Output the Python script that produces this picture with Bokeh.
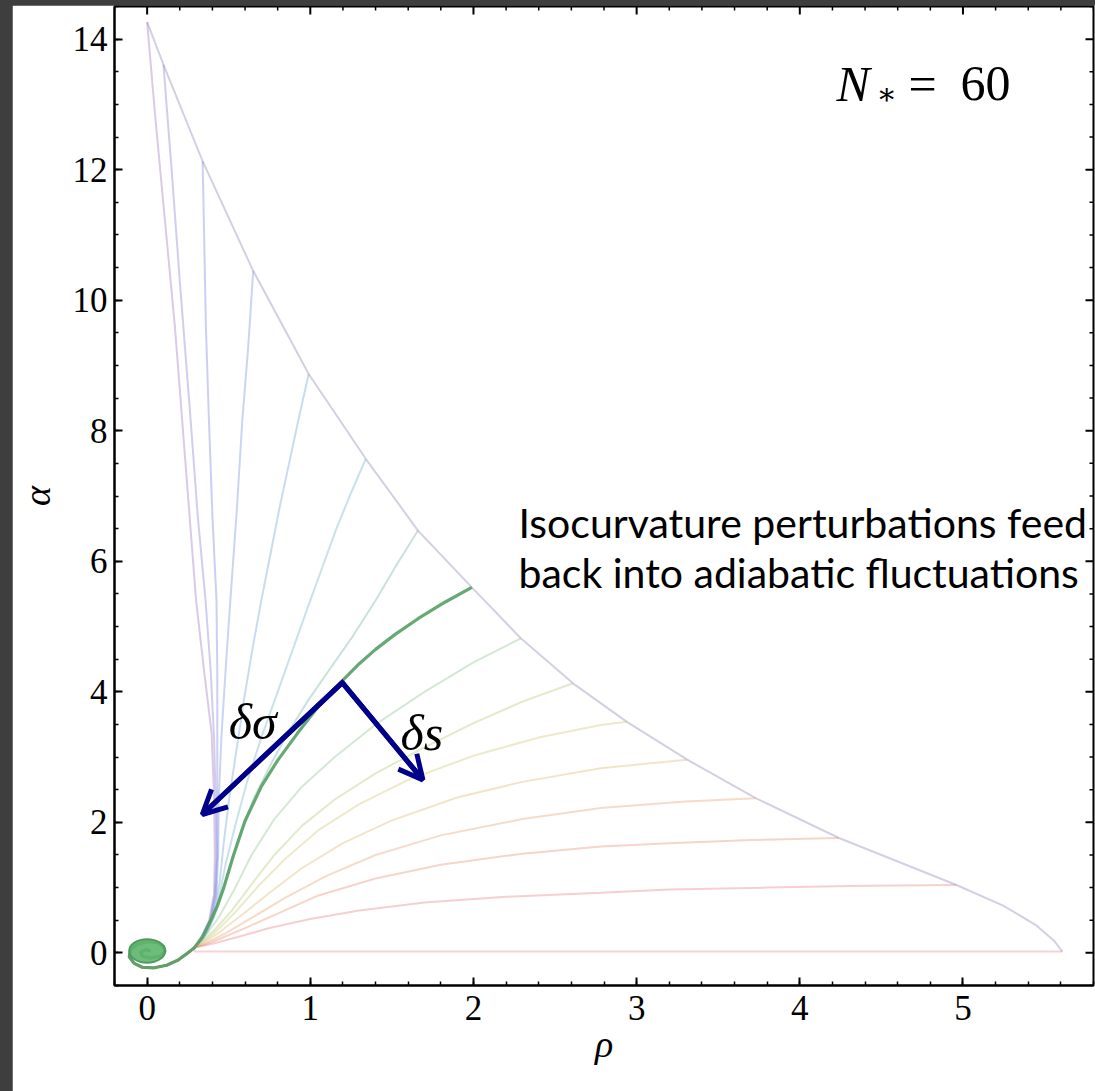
import math
from bokeh.plotting import figure
from bokeh.models import (Label, Arrow, OpenHead, SingleIntervalTicker, Range1d)
from bokeh.layouts import column
from bokeh.embed import file_html
from bokeh.resources import INLINE

# ---------------- data ----------------
rho_ticks = [0, 1, 2, 3, 4, 5]
alpha_ticks = [0, 2, 4, 6, 8, 10, 12, 14]
rho_limits = (-0.2, 5.8)
alpha_limits = (-0.5, 14.5)

# N_* = 60 boundary (end points of the trajectories)
envelope = [(0.00, 14.26), (0.10, 13.61), (0.34, 12.13), (0.65, 10.45), (0.99, 8.87),
            (1.34, 7.57), (1.66, 6.47), (1.99, 5.60), (2.29, 4.82), (2.61, 4.13),
            (2.94, 3.54), (3.31, 2.96), (3.73, 2.37), (4.24, 1.76), (4.60, 1.40),
            (4.96, 1.04), (5.25, 0.72), (5.45, 0.42), (5.56, 0.18), (5.61, 0.02)]

# common spiral into the minimum
tail = [(0.29, 0.08), (0.25, 0.00), (0.19, -0.11), (0.12, -0.19), (0.04, -0.23),
        (-0.03, -0.22), (-0.08, -0.16), (-0.11, -0.06), (-0.10, 0.05), (-0.06, 0.13),
        (0.00, 0.17), (0.06, 0.16), (0.10, 0.10), (0.11, 0.02), (0.08, -0.05),
        (0.02, -0.08), (-0.03, -0.05), (-0.04, 0.01), (-0.01, 0.05), (0.02, 0.03)]

traj_00 = [(0.00, 14.26), (0.05, 12.80), (0.11, 11.20), (0.17, 9.60), (0.215, 8.15), (0.26, 6.70),
           (0.30, 5.40), (0.35, 4.30), (0.395, 3.37), (0.41, 2.40), (0.415, 1.50), (0.41, 0.90),
           (0.38, 0.50), (0.33, 0.22), (0.29, 0.08)]
traj_01 = [(0.10, 13.61), (0.15, 12.00), (0.20, 10.30), (0.267, 8.15), (0.31, 6.70), (0.358, 5.40),
           (0.39, 4.30), (0.41, 3.30), (0.42, 2.40), (0.425, 1.50), (0.415, 0.90), (0.385, 0.50),
           (0.335, 0.22), (0.29, 0.08)]
traj_02 = [(0.34, 12.13), (0.35, 10.90), (0.36, 9.60), (0.379, 8.15), (0.40, 6.70), (0.425, 5.40),
           (0.43, 4.30), (0.43, 3.30), (0.43, 2.40), (0.43, 1.50), (0.42, 0.90), (0.39, 0.50),
           (0.34, 0.22), (0.29, 0.08)]
traj_03 = [(0.65, 10.45), (0.62, 9.30), (0.583, 8.15), (0.55, 6.80), (0.51, 5.40), (0.48, 4.30),
           (0.455, 3.30), (0.44, 2.40), (0.435, 1.50), (0.425, 0.90), (0.395, 0.50), (0.345, 0.22),
           (0.29, 0.08)]
traj_04 = [(0.99, 8.87), (0.93, 8.20), (0.87, 7.50), (0.81, 6.80), (0.755, 6.10), (0.70, 5.40),
           (0.645, 4.65), (0.595, 3.90), (0.55, 3.15), (0.505, 2.40), (0.47, 1.70), (0.445, 1.10),
           (0.42, 0.70), (0.38, 0.42), (0.33, 0.20), (0.29, 0.08)]
traj_05 = [(1.34, 7.57), (1.25, 7.05), (1.16, 6.50), (1.08, 5.95), (1.00, 5.40), (0.90, 4.70),
           (0.80, 4.00), (0.70, 3.30), (0.61, 2.60), (0.54, 1.95), (0.48, 1.35), (0.445, 0.90),
           (0.41, 0.55), (0.35, 0.25), (0.29, 0.08)]
traj_06 = [(1.66, 6.47), (1.53, 5.95), (1.40, 5.40), (1.26, 4.85), (1.12, 4.35), (0.99, 3.88),
           (0.87, 3.40), (0.76, 2.90), (0.66, 2.40), (0.58, 1.90), (0.515, 1.40), (0.465, 0.98),
           (0.425, 0.65), (0.37, 0.32), (0.29, 0.08)]
traj_07 = [(1.99, 5.60), (1.83, 5.38), (1.66, 5.12), (1.52, 4.88), (1.40, 4.65), (1.30, 4.43),
           (1.20, 4.18), (1.05, 3.78), (0.92, 3.36), (0.80, 2.95), (0.70, 2.55), (0.60, 2.02),
           (0.53, 1.50), (0.47, 1.00), (0.43, 0.72), (0.39, 0.50), (0.34, 0.25), (0.29, 0.08)]
traj_08 = [(2.29, 4.82), (2.00, 4.45), (1.70, 4.00), (1.40, 3.50), (1.15, 3.00), (0.95, 2.55),
           (0.78, 2.05), (0.64, 1.50), (0.53, 0.95), (0.44, 0.55), (0.36, 0.27), (0.29, 0.08)]
traj_09 = [(2.61, 4.13), (2.30, 3.85), (2.00, 3.52), (1.70, 3.15), (1.40, 2.75), (1.15, 2.35),
           (0.95, 1.95), (0.78, 1.50), (0.64, 1.05), (0.52, 0.65), (0.42, 0.37), (0.34, 0.18),
           (0.29, 0.08)]
traj_10 = [(2.94, 3.54), (2.78, 3.49), (2.40, 3.30), (2.00, 3.02), (1.60, 2.65), (1.30, 2.28),
           (1.05, 1.88), (0.85, 1.45), (0.68, 1.02), (0.55, 0.65), (0.44, 0.37), (0.35, 0.18),
           (0.29, 0.08)]
traj_11 = [(3.31, 2.96), (2.78, 2.83), (2.30, 2.62), (1.90, 2.38), (1.50, 2.03), (1.20, 1.68),
           (0.95, 1.30), (0.75, 0.92), (0.58, 0.58), (0.45, 0.33), (0.35, 0.16), (0.29, 0.08)]
traj_12 = [(3.73, 2.37), (3.30, 2.32), (2.78, 2.22), (2.30, 2.05), (1.80, 1.80), (1.40, 1.50),
           (1.10, 1.18), (0.85, 0.85), (0.65, 0.55), (0.48, 0.30), (0.36, 0.15), (0.29, 0.08)]
traj_13 = [(4.24, 1.76), (3.70, 1.73), (3.20, 1.68), (2.78, 1.63), (2.30, 1.52), (1.80, 1.35),
           (1.40, 1.14), (1.05, 0.88), (0.80, 0.60), (0.60, 0.38), (0.45, 0.22), (0.35, 0.12),
           (0.29, 0.08)]
traj_14 = [(4.96, 1.04), (4.40, 1.03), (3.80, 1.00), (3.20, 0.97), (2.78, 0.92), (2.20, 0.86),
           (1.70, 0.77), (1.30, 0.65), (1.00, 0.52), (0.75, 0.38), (0.55, 0.24), (0.40, 0.14),
           (0.29, 0.08)]
traj_15 = [(5.61, 0.02), (5.00, 0.02), (4.00, 0.02), (3.00, 0.02), (2.00, 0.02), (1.00, 0.02),
           (0.50, 0.02), (0.29, 0.02)]

trajectories = [traj_00, traj_01, traj_02, traj_03, traj_04, traj_05, traj_06, traj_07,
                traj_08, traj_09, traj_10, traj_11, traj_12, traj_13, traj_14, traj_15]
highlight = 7

blob_rho, blob_alpha, blob_w, blob_h = [0.0], [0.03], [0.22], [0.36]

arrow_vertex = (1.196, 4.14)
arrow_dsigma_tip = (0.338, 2.12)
arrow_ds_tip = (1.69, 2.65)

label_dsigma_pos = (0.50, 3.54)
label_ds_pos = (1.553, 3.37)
label_N_pos = (4.225, 13.32)
note_pos = (2.276, 6.60)
note_pos2 = (2.276, 5.83)

# ---------------- styles ----------------
traj_colors = ["#a070c0", "#8c7cd0", "#7a80e0", "#7090e0", "#70a0d8", "#70b0c8", "#70b0a8",
               "#55a065", "#90c090", "#b0c870", "#d0c870", "#e0b870", "#e8a070", "#e89070",
               "#e88080", "#e88890"]
NAVY = "#00008b"
SERIF = "'Liberation Serif', 'Times New Roman', serif"

p = figure(width=1083, height=1086, x_range=Range1d(*rho_limits), y_range=Range1d(*alpha_limits),
           output_backend="svg", toolbar_location=None,
           min_border_left=102, min_border_right=2, min_border_top=1, min_border_bottom=106,
           background_fill_color="white", border_fill_color="white")
p.margin = (5, 0, 0, 12)
p.grid.visible = False
p.outline_line_color = "black"
p.outline_line_width = 2

p.xaxis[0].ticker = SingleIntervalTicker(interval=1, num_minor_ticks=5)
p.yaxis[0].ticker = SingleIntervalTicker(interval=2, num_minor_ticks=4)
p.xaxis[0].axis_label = "ρ"
p.yaxis[0].axis_label = "α"

for ax in (p.xaxis[0], p.yaxis[0]):
    ax.axis_line_color = "black"
    ax.axis_line_width = 2
    ax.major_tick_in = 8
    ax.major_tick_out = 0
    ax.minor_tick_in = 4
    ax.minor_tick_out = 0
    ax.major_tick_line_width = 2
    ax.minor_tick_line_width = 1.5
    ax.major_tick_line_color = "black"
    ax.minor_tick_line_color = "black"
    ax.major_label_text_font = SERIF
    ax.major_label_text_font_size = "35px"
    ax.major_label_text_color = "black"
    ax.axis_label_text_font = SERIF
    ax.axis_label_text_font_style = "italic"
    ax.axis_label_text_font_size = "38px"
    ax.axis_label_text_color = "black"
p.xaxis[0].major_label_standoff = 10
p.xaxis[0].axis_label_standoff = 0
p.yaxis[0].major_label_standoff = 7
p.yaxis[0].axis_label_standoff = 12

# mirror ticks on the top and right edges of the frame
rho_minor = [round(rho_limits[0] + 0.2 * k, 2) for k in range(31)]
rho_minor = [v for v in rho_minor if abs(v - round(v)) > 1e-6]
alpha_minor = [alpha_limits[0] + 0.5 * k for k in range(31)]
alpha_minor = [v for v in alpha_minor if abs(v / 2 - round(v / 2)) > 1e-6]
p.ray(x=rho_ticks, y=[alpha_limits[1]] * len(rho_ticks), length=8, length_units="screen",
      angle=-math.pi / 2, line_color="black", line_width=2)
p.ray(x=rho_minor, y=[alpha_limits[1]] * len(rho_minor), length=4, length_units="screen",
      angle=-math.pi / 2, line_color="black", line_width=1.5)
p.ray(x=[rho_limits[1]] * len(alpha_ticks), y=alpha_ticks, length=8, length_units="screen",
      angle=math.pi, line_color="black", line_width=2)
p.ray(x=[rho_limits[1]] * len(alpha_minor), y=alpha_minor, length=4, length_units="screen",
      angle=math.pi, line_color="black", line_width=1.5)

# envelope
p.line([q[0] for q in envelope], [q[1] for q in envelope], line_color="#d2d0e2", line_width=2)

# faint trajectories
for i, tr in enumerate(trajectories):
    if i == highlight:
        continue
    pts = tr + tail
    p.line([q[0] for q in pts], [q[1] for q in pts], line_color=traj_colors[i],
           line_width=2, line_alpha=0.38)

# highlighted trajectory
pts = trajectories[highlight] + tail
p.line([q[0] for q in pts], [q[1] for q in pts], line_color=traj_colors[highlight],
       line_width=3.2, line_alpha=0.9)
p.ellipse(x=blob_rho, y=blob_alpha, width=blob_w, height=blob_h,
          fill_color="#5db56b", fill_alpha=0.9, line_color="#4f9a5e", line_width=2)

# arrows
p.line([arrow_dsigma_tip[0], arrow_vertex[0], arrow_ds_tip[0]],
       [arrow_dsigma_tip[1], arrow_vertex[1], arrow_ds_tip[1]],
       line_color=NAVY, line_width=5, line_join="miter")
for tip in (arrow_dsigma_tip, arrow_ds_tip):
    p.add_layout(Arrow(end=OpenHead(size=24, line_width=5, line_color=NAVY),
                       x_start=arrow_vertex[0], y_start=arrow_vertex[1],
                       x_end=tip[0], y_end=tip[1], line_color=NAVY, line_width=5))

# labels
def serif_label(pos, text, size, italic=False, dx=0, dy=0, font=SERIF):
    p.add_layout(Label(x=pos[0], y=pos[1], x_offset=dx, y_offset=dy, text=text,
                       text_font=font, text_font_style="italic" if italic else "normal",
                       text_font_size=size, text_color="black", text_baseline="alphabetic"))

serif_label(label_dsigma_pos, "δσ", "50px", italic=True)
serif_label(label_ds_pos, "δs", "50px", italic=True)
serif_label(label_N_pos, "N", "50px", italic=True)
serif_label(label_N_pos, "∗", "30px", dx=40, dy=-10, font="'DejaVu Serif', serif")
serif_label(label_N_pos, "=", "50px", dx=72)
serif_label(label_N_pos, "60", "50px", dx=124)

p.add_layout(Label(x=note_pos[0], y=note_pos[1], text="Isocurvature perturbations feed",
                   text_font="Lato", text_font_size="41px", text_color="black",
                   text_baseline="alphabetic"))
p.add_layout(Label(x=note_pos2[0], y=note_pos2[1], text="back into adiabatic fluctuations",
                   text_font="Lato", text_font_size="41px", text_color="black",
                   text_baseline="alphabetic"))

layout = column(p, styles={"background-color": "#3e3e3e"})
open("out.html", "w").write(file_html(layout, INLINE))
